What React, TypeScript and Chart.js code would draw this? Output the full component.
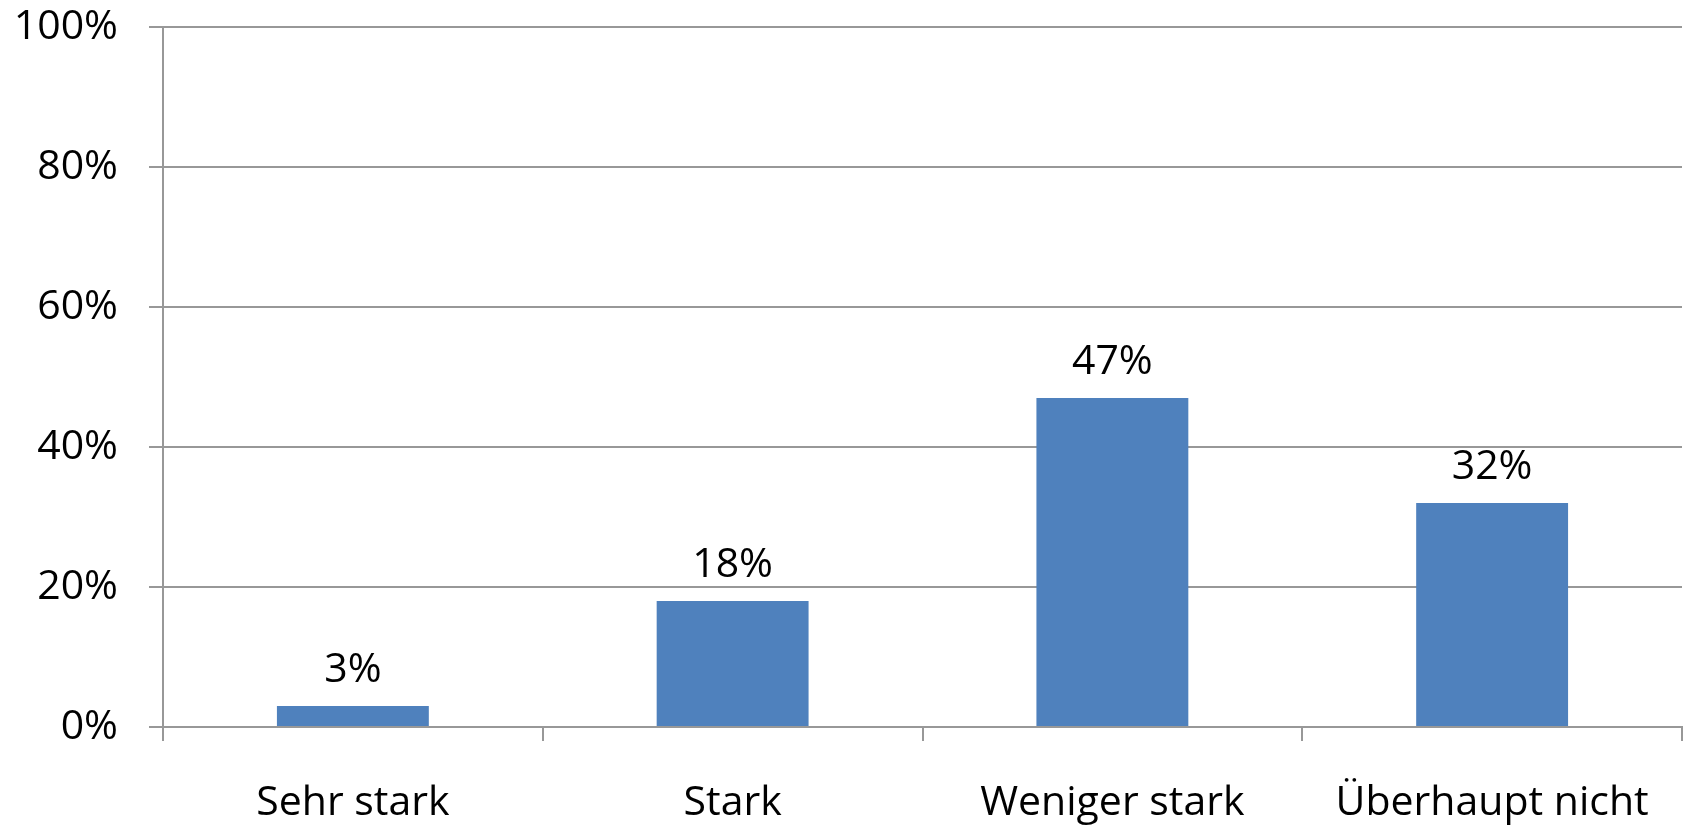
import React, { useEffect, useRef } from "react";
import { Chart, registerables } from "chart.js";

Chart.register(...registerables);

const categories = ["Sehr stark", "Stark", "Weniger stark", "Überhaupt nicht"];
const values = [3, 18, 47, 32];
const yTicks = [0, 20, 40, 60, 80, 100];

const FONT = "'Open Sans', 'Noto Sans', sans-serif";
const SIZE = 41;

const valueLabels = {
  id: "valueLabels",
  afterDatasetsDraw(chart: any) {
    const ctx = chart.ctx;
    const meta = chart.getDatasetMeta(0);
    ctx.save();
    ctx.font = `${SIZE}px ${FONT}`;
    ctx.fillStyle = "#000000";
    ctx.textAlign = "center";
    ctx.textBaseline = "alphabetic";
    meta.data.forEach((bar: any, i: number) => {
      ctx.fillText(`${values[i]}%`, bar.x, bar.y - 24);
    });
    ctx.restore();
  },
};

export default function App() {
  const ref = useRef<HTMLCanvasElement | null>(null);
  useEffect(() => {
    if (!ref.current) return;
    const chart = new Chart(ref.current, {
      type: "bar",
      data: {
        labels: categories,
        datasets: [
          {
            data: values,
            backgroundColor: "#4F81BD",
            borderWidth: 0,
            categoryPercentage: 0.4,
            barPercentage: 1,
          },
        ],
      },
      options: {
        animation: false,
        responsive: false,
        maintainAspectRatio: false,
        layout: { padding: { top: 27, right: 4, left: 0, bottom: 0 } },
        plugins: { legend: { display: false }, tooltip: { enabled: false } },
        scales: {
          x: {
            grid: {
              offset: true,
              drawOnChartArea: false,
              drawTicks: true,
              tickLength: 14,
              color: "#989898",
              lineWidth: 2,
            },
            border: { display: true, color: "#989898", width: 2 },
            ticks: {
              color: "#000000",
              font: { family: FONT, size: SIZE },
              padding: 38,
              maxRotation: 0,
              autoSkip: false,
            },
            afterFit(scale: any) {
              scale.height = 99;
              scale.paddingLeft = 0;
              scale.paddingRight = 0;
            },
          },
          y: {
            min: 0,
            max: 100,
            afterBuildTicks(scale: any) {
              scale.ticks = yTicks.map((v) => ({ value: v }));
            },
            grid: {
              color: "#989898",
              lineWidth: 2,
              drawTicks: true,
              tickLength: 14,
            },
            border: { display: true, color: "#989898", width: 2 },
            ticks: {
              color: "#000000",
              font: { family: FONT, size: SIZE },
              padding: 31,
              callback: (v: any) => `${v}%`,
            },
            afterFit(scale: any) {
              scale.width = 163;
              scale.paddingTop = 0;
              scale.paddingBottom = 0;
            },
          },
        },
      },
      plugins: [valueLabels],
    });
    return () => chart.destroy();
  }, []);
  return (
    <div style={{ position: "fixed", left: 0, top: 0, width: 1686, height: 826, background: "#fff" }}>
      <canvas ref={ref} width={1686} height={826} style={{ width: 1686, height: 826, display: "block" }} />
    </div>
  );
}
